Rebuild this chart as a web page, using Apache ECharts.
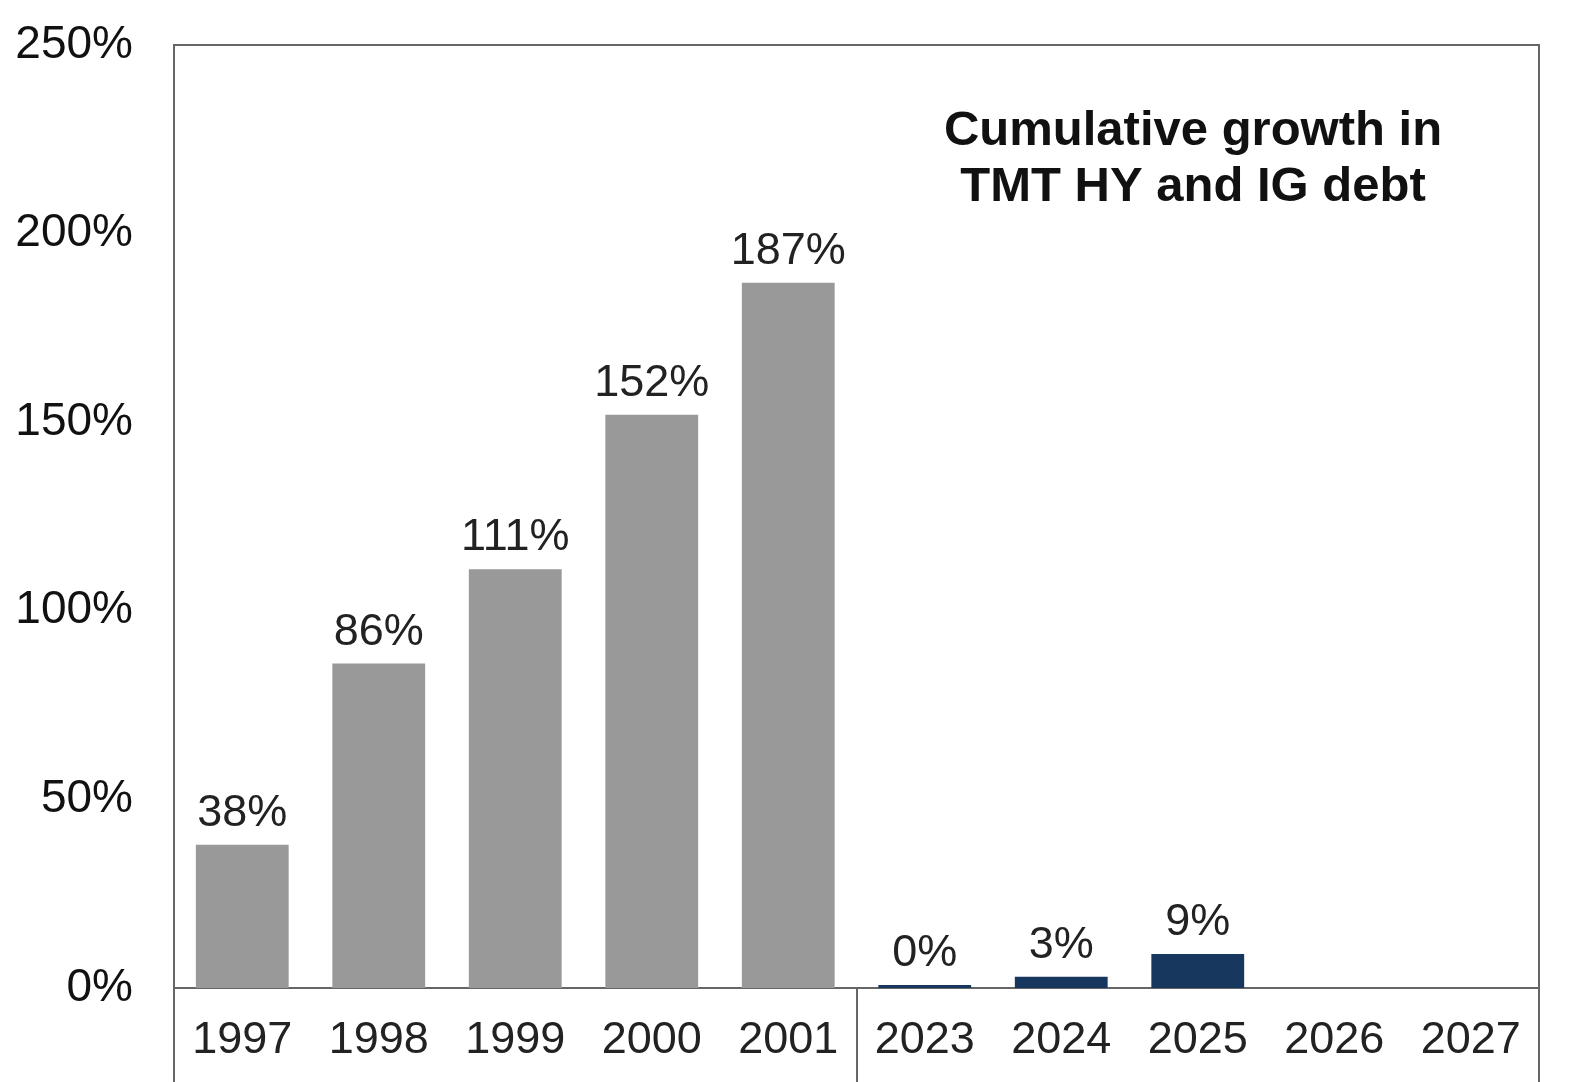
<!DOCTYPE html>
<html>
<head>
<meta charset="utf-8">
<script src="https://cdn.jsdelivr.net/npm/echarts@6/dist/echarts.min.js"></script>
<style>
html,body{margin:0;padding:0;background:#fff;}
#chart{width:1584px;height:1082px;}
</style>
</head>
<body>
<div id="chart"></div>
<script>
const categories = ['1997','1998','1999','2000','2001','2023','2024','2025','2026','2027'];
const growthValues = [38, 86, 111, 152, 187, 0, 3, 9, null, null];
const yTicks = { min: 0, max: 250, interval: 50 };
const titleText = 'Cumulative growth in\nTMT HY and IG debt';

const FONT = "'Liberation Sans', Arial, sans-serif";
const chart = echarts.init(document.getElementById('chart'));
chart.setOption({
  animation: false,
  backgroundColor: '#ffffff',
  grid: {
    left: 174, right: 45, top: 45, bottom: 94,
    show: true, borderColor: '#666666', borderWidth: 2, containLabel: false
  },
  graphic: [{
    type: 'text',
    x: 1193, y: 159,
    style: {
      text: titleText,
      font: "bold 49px " + FONT,
      fill: '#111111',
      textAlign: 'center',
      textVerticalAlign: 'middle',
      lineHeight: 56
    },
    z: 10
  }],
  xAxis: {
    type: 'category',
    data: categories,
    axisLine: { lineStyle: { color: '#666666', width: 2 } },
    axisTick: {
      show: true,
      interval: function (i) { return i === 0 || i === 5; },
      length: 94,
      inside: false,
      lineStyle: { color: '#666666', width: 2 }
    },
    axisLabel: {
      fontFamily: FONT, fontSize: 45, color: '#222222', margin: 30, interval: 0
    },
    splitLine: { show: false }
  },
  yAxis: {
    type: 'value',
    min: yTicks.min, max: yTicks.max, interval: yTicks.interval,
    axisLine: { show: false },
    axisTick: { show: false },
    splitLine: { show: false },
    axisLabel: {
      formatter: '{value}%',
      fontFamily: FONT, fontSize: 46, color: '#111111', margin: 41
    }
  },
  series: [{
    type: 'bar',
    data: growthValues,
    barWidth: '68%',
    barMinHeight: 3,
    itemStyle: {
      color: function (p) { return p.dataIndex < 5 ? '#999999' : '#17375f'; }
    },
    label: {
      show: true,
      position: 'top',
      distance: 9,
      formatter: function (p) { return p.value == null ? '' : p.value + '%'; },
      fontFamily: FONT, fontSize: 45, color: '#222222'
    }
  }]
});
</script>
</body>
</html>
